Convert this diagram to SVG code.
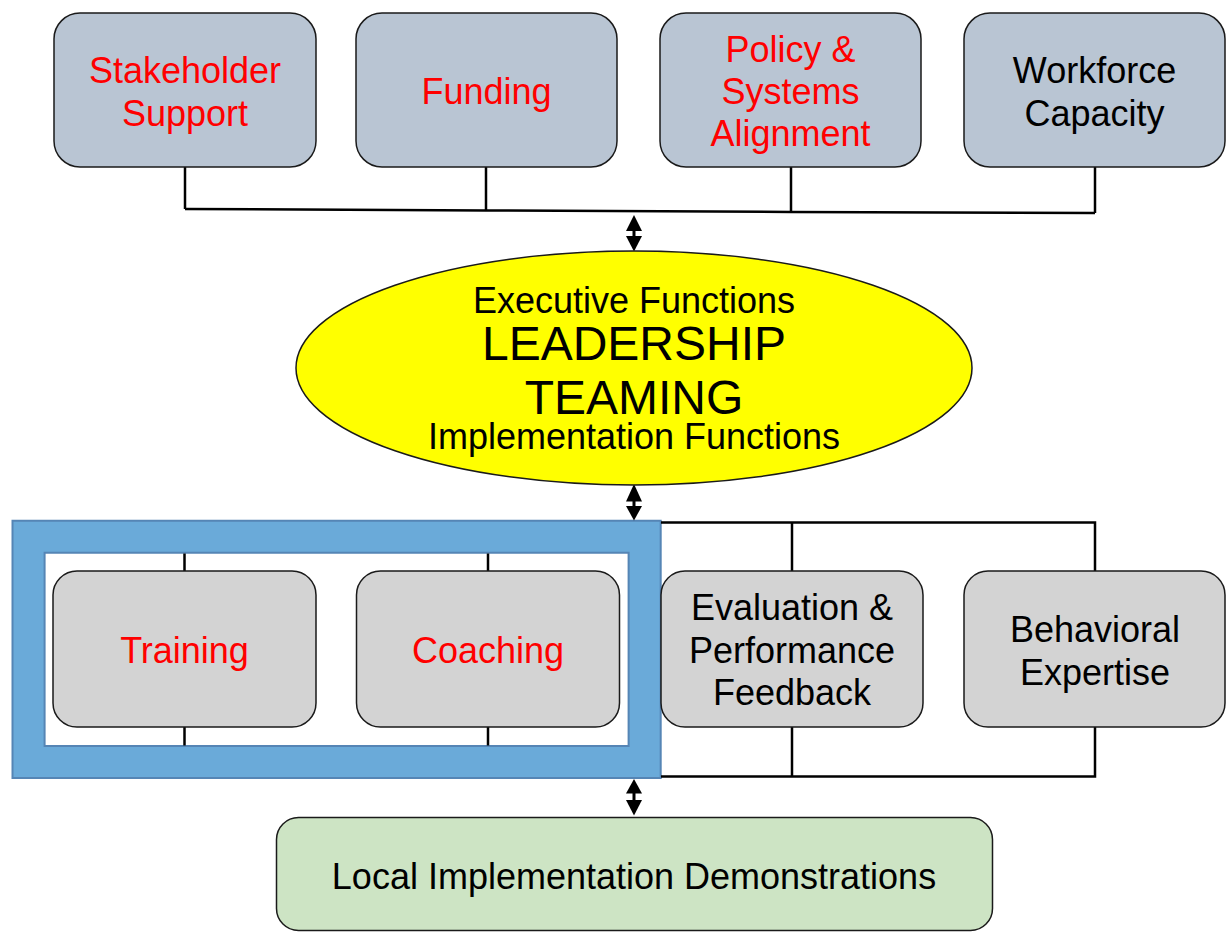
<svg xmlns="http://www.w3.org/2000/svg" width="1226" height="932" viewBox="0 0 1226 932">
<style>
.top{fill:#b9c5d3;stroke:#1a1a1a;stroke-width:1.5}
.gray{fill:#d3d3d3;stroke:#1a1a1a;stroke-width:1.5}
.green{fill:#cde4c4;stroke:#1a1a1a;stroke-width:1.5}
.conn{fill:none;stroke:#000;stroke-width:2.5}
.t{font-family:"Liberation Sans",Arial,sans-serif;font-size:36px;text-anchor:middle;fill:#000}
.red{fill:#ff0000}
.big{font-size:48px}
.arr{fill:#000}
</style>
<rect width="1226" height="932" fill="#fff"/>
<g id="frame">
<path d="M12.5 520.7H660.7V778H12.5Z M44.6 552.7V746H628.6V552.7Z" fill="#6aaad9" fill-rule="evenodd" stroke="#5585b5" stroke-width="2"/>
</g>
<g id="connectors">
<polyline class="conn" points="185,209 486,210.5 791,212 1095,213"/>
<line class="conn" x1="185" y1="167" x2="185" y2="209"/>
<line class="conn" x1="486" y1="167" x2="486" y2="210.5"/>
<line class="conn" x1="791" y1="167" x2="791" y2="212"/>
<line class="conn" x1="1095" y1="167" x2="1095" y2="213"/>
<polyline class="conn" points="661,522.5 1095,522.5 1095,571"/>
<line class="conn" x1="792" y1="522.5" x2="792" y2="571"/>
<polyline class="conn" points="661,776.5 1095,776.5 1095,727"/>
<line class="conn" x1="792" y1="776.5" x2="792" y2="727"/>
<line class="conn" x1="184.5" y1="553.5" x2="184.5" y2="571" stroke-width="2"/>
<line class="conn" x1="488" y1="553.5" x2="488" y2="571" stroke-width="2"/>
<line class="conn" x1="184.5" y1="727" x2="184.5" y2="745.5" stroke-width="2"/>
<line class="conn" x1="488" y1="727" x2="488" y2="745.5" stroke-width="2"/>
<line x1="634" y1="225" x2="634" y2="242" stroke="#000" stroke-width="3"/>
<polygon class="arr" points="634,215 626,231 642,231"/>
<polygon class="arr" points="634,251.5 626,236 642,236"/>
<line x1="634" y1="495" x2="634" y2="512" stroke="#000" stroke-width="3"/>
<polygon class="arr" points="634,484 626,501.5 642,501.5"/>
<polygon class="arr" points="634,520.5 626,506 642,506"/>
<line x1="634" y1="789" x2="634" y2="805" stroke="#000" stroke-width="3"/>
<polygon class="arr" points="634,779 626,793.5 642,793.5"/>
<polygon class="arr" points="634,815.5 626,800 642,800"/>
</g>
<g id="stakeholder">
<rect class="top" x="54" y="13" width="262" height="154" rx="26"/>
<text class="t red" x="185" y="83">Stakeholder</text>
<text class="t red" x="185" y="126">Support</text>
</g>
<g id="funding">
<rect class="top" x="356" y="13" width="261" height="154" rx="26"/>
<text class="t red" x="486.5" y="104">Funding</text>
</g>
<g id="policy">
<rect class="top" x="660" y="13" width="261" height="154" rx="26"/>
<text class="t red" x="790.5" y="62">Policy &amp;</text>
<text class="t red" x="790.5" y="104">Systems</text>
<text class="t red" x="790.5" y="146">Alignment</text>
</g>
<g id="workforce">
<rect class="top" x="964" y="13" width="261" height="154" rx="26"/>
<text class="t" x="1094.5" y="83">Workforce</text>
<text class="t" x="1094.5" y="126">Capacity</text>
</g>
<g id="leadership">
<ellipse cx="634" cy="368" rx="338" ry="117" fill="#ffff00" stroke="#1a1a1a" stroke-width="1.5"/>
<text class="t" x="634" y="313">Executive Functions</text>
<text class="t big" x="634" y="360">LEADERSHIP</text>
<text class="t big" x="634" y="414">TEAMING</text>
<text class="t" x="634" y="449">Implementation Functions</text>
</g>
<g id="training">
<rect class="gray" x="53" y="571" width="263" height="156" rx="24"/>
<text class="t red" x="184.5" y="663">Training</text>
</g>
<g id="coaching">
<rect class="gray" x="356.5" y="571" width="263" height="156" rx="24"/>
<text class="t red" x="488" y="663">Coaching</text>
</g>
<g id="evaluation">
<rect class="gray" x="661" y="571" width="262" height="156" rx="24"/>
<text class="t" x="792" y="620">Evaluation &amp;</text>
<text class="t" x="792" y="663">Performance</text>
<text class="t" x="792" y="705">Feedback</text>
</g>
<g id="behavioral">
<rect class="gray" x="964" y="571" width="261" height="156" rx="24"/>
<text class="t" x="1095" y="642">Behavioral</text>
<text class="t" x="1095" y="685">Expertise</text>
</g>
<g id="local">
<rect class="green" x="276.5" y="817.5" width="716" height="113" rx="22"/>
<text class="t" x="634" y="889">Local Implementation Demonstrations</text>
</g>
</svg>
